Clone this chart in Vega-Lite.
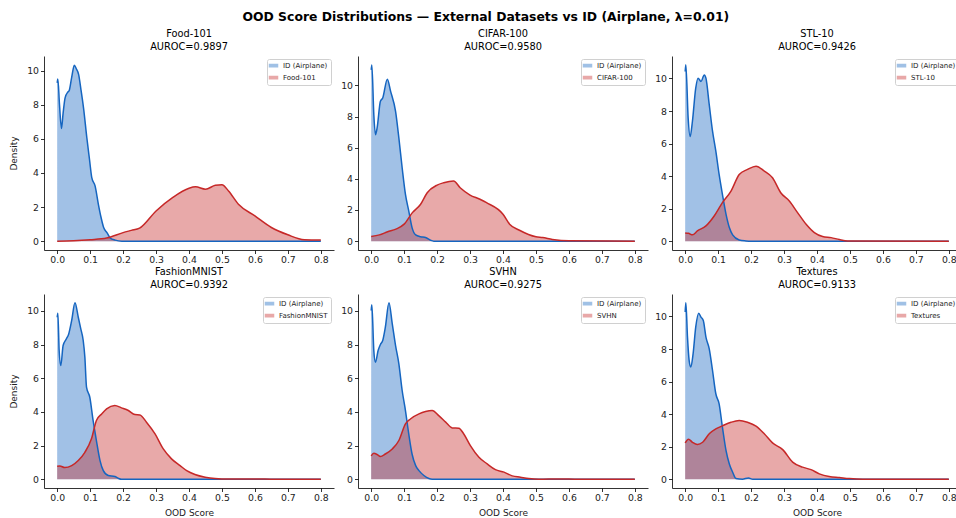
{
  "$schema": "https://vega.github.io/schema/vega-lite/v6.json",
  "background": "white",
  "autosize": {"type": "pad"},
  "padding": {"left": 9, "top": 11, "right": 0, "bottom": 0},
  "title": {"text": "OOD Score Distributions — External Datasets vs ID (Airplane, λ=0.01)", "fontSize": 12.4, "fontWeight": "bold", "anchor": "middle", "frame": "bounds", "offset": 6, "font": "DejaVu Sans", "color": "#000"},
  "config": {
    "font": "DejaVu Sans",
    "view": {"stroke": null},
    "title": {"fontSize": 9.8, "fontWeight": "normal", "font": "DejaVu Sans", "color": "#000", "offset": 4, "lineHeight": 12.8, "anchor": "middle"},
    "axis": {"grid": false, "domainColor": "#000", "tickColor": "#000", "domainWidth": 0.8, "tickWidth": 0.8, "tickSize": 3.5, "labelFontSize": 9.3, "labelColor": "#222", "labelPadding": 2, "titleFontSize": 9, "titleFontWeight": "normal", "titleColor": "#222", "labelFont": "DejaVu Sans", "titleFont": "DejaVu Sans"},
    "axisY": {"titlePadding": 8},
    "axisX": {"titlePadding": 6, "labelFlush": false},
    "legend": {"orient": "top-right", "offset": 3, "labelFontSize": 7, "labelFont": "DejaVu Sans", "labelColor": "#222", "symbolType": "M-1.6,-0.45H1.6V0.45H-1.6Z", "symbolSize": 25, "padding": 3, "rowPadding": 3, "strokeColor": "#d0d0d0", "fillColor": "white", "cornerRadius": 2, "labelOffset": 6}
  },
  "data": {"values": [
    {"panel":"Food-101","series":"ID (Airplane)","score":0,"density":9.28},
    {"panel":"Food-101","series":"ID (Airplane)","score":0.002,"density":9.5},
    {"panel":"Food-101","series":"ID (Airplane)","score":0.007,"density":8.0},
    {"panel":"Food-101","series":"ID (Airplane)","score":0.013,"density":6.6},
    {"panel":"Food-101","series":"ID (Airplane)","score":0.018,"density":7.5},
    {"panel":"Food-101","series":"ID (Airplane)","score":0.024,"density":8.4},
    {"panel":"Food-101","series":"ID (Airplane)","score":0.032,"density":8.73},
    {"panel":"Food-101","series":"ID (Airplane)","score":0.036,"density":8.8},
    {"panel":"Food-101","series":"ID (Airplane)","score":0.044,"density":9.6},
    {"panel":"Food-101","series":"ID (Airplane)","score":0.052,"density":10.31},
    {"panel":"Food-101","series":"ID (Airplane)","score":0.058,"density":10.1},
    {"panel":"Food-101","series":"ID (Airplane)","score":0.065,"density":9.77},
    {"panel":"Food-101","series":"ID (Airplane)","score":0.072,"density":8.9},
    {"panel":"Food-101","series":"ID (Airplane)","score":0.08,"density":7.8},
    {"panel":"Food-101","series":"ID (Airplane)","score":0.09,"density":6.06},
    {"panel":"Food-101","series":"ID (Airplane)","score":0.098,"density":4.8},
    {"panel":"Food-101","series":"ID (Airplane)","score":0.105,"density":3.72},
    {"panel":"Food-101","series":"ID (Airplane)","score":0.115,"density":3.24},
    {"panel":"Food-101","series":"ID (Airplane)","score":0.125,"density":2.16},
    {"panel":"Food-101","series":"ID (Airplane)","score":0.133,"density":1.4},
    {"panel":"Food-101","series":"ID (Airplane)","score":0.141,"density":0.8},
    {"panel":"Food-101","series":"ID (Airplane)","score":0.151,"density":0.5},
    {"panel":"Food-101","series":"ID (Airplane)","score":0.161,"density":0.18},
    {"panel":"Food-101","series":"ID (Airplane)","score":0.176,"density":0.06},
    {"panel":"Food-101","series":"ID (Airplane)","score":0.196,"density":0},
    {"panel":"Food-101","series":"ID (Airplane)","score":0.8,"density":0},
    {"panel":"Food-101","series":"Food-101","score":0,"density":0},
    {"panel":"Food-101","series":"Food-101","score":0.05,"density":0.02},
    {"panel":"Food-101","series":"Food-101","score":0.1,"density":0.08},
    {"panel":"Food-101","series":"Food-101","score":0.15,"density":0.18},
    {"panel":"Food-101","series":"Food-101","score":0.2,"density":0.5},
    {"panel":"Food-101","series":"Food-101","score":0.225,"density":0.63},
    {"panel":"Food-101","series":"Food-101","score":0.25,"density":0.76},
    {"panel":"Food-101","series":"Food-101","score":0.3,"density":1.77},
    {"panel":"Food-101","series":"Food-101","score":0.35,"density":2.55},
    {"panel":"Food-101","series":"Food-101","score":0.4,"density":3.1},
    {"panel":"Food-101","series":"Food-101","score":0.42,"density":3.18},
    {"panel":"Food-101","series":"Food-101","score":0.45,"density":3.04},
    {"panel":"Food-101","series":"Food-101","score":0.48,"density":3.27},
    {"panel":"Food-101","series":"Food-101","score":0.5,"density":3.3},
    {"panel":"Food-101","series":"Food-101","score":0.52,"density":2.94},
    {"panel":"Food-101","series":"Food-101","score":0.55,"density":2.16},
    {"panel":"Food-101","series":"Food-101","score":0.6,"density":1.48},
    {"panel":"Food-101","series":"Food-101","score":0.65,"density":0.8},
    {"panel":"Food-101","series":"Food-101","score":0.7,"density":0.37},
    {"panel":"Food-101","series":"Food-101","score":0.75,"density":0.08},
    {"panel":"Food-101","series":"Food-101","score":0.8,"density":0.06},

    {"panel":"CIFAR-100","series":"ID (Airplane)","score":0,"density":11.0},
    {"panel":"CIFAR-100","series":"ID (Airplane)","score":0.002,"density":11.32},
    {"panel":"CIFAR-100","series":"ID (Airplane)","score":0.008,"density":8.12},
    {"panel":"CIFAR-100","series":"ID (Airplane)","score":0.013,"density":6.84},
    {"panel":"CIFAR-100","series":"ID (Airplane)","score":0.018,"density":7.27},
    {"panel":"CIFAR-100","series":"ID (Airplane)","score":0.028,"density":8.98},
    {"panel":"CIFAR-100","series":"ID (Airplane)","score":0.035,"density":9.19},
    {"panel":"CIFAR-100","series":"ID (Airplane)","score":0.049,"density":10.4},
    {"panel":"CIFAR-100","series":"ID (Airplane)","score":0.059,"density":9.62},
    {"panel":"CIFAR-100","series":"ID (Airplane)","score":0.074,"density":8.34},
    {"panel":"CIFAR-100","series":"ID (Airplane)","score":0.084,"density":6.63},
    {"panel":"CIFAR-100","series":"ID (Airplane)","score":0.094,"density":4.71},
    {"panel":"CIFAR-100","series":"ID (Airplane)","score":0.104,"density":3.0},
    {"panel":"CIFAR-100","series":"ID (Airplane)","score":0.114,"density":1.94},
    {"panel":"CIFAR-100","series":"ID (Airplane)","score":0.124,"density":0.87},
    {"panel":"CIFAR-100","series":"ID (Airplane)","score":0.135,"density":0.4},
    {"panel":"CIFAR-100","series":"ID (Airplane)","score":0.15,"density":0.28},
    {"panel":"CIFAR-100","series":"ID (Airplane)","score":0.165,"density":0.23},
    {"panel":"CIFAR-100","series":"ID (Airplane)","score":0.18,"density":0.06},
    {"panel":"CIFAR-100","series":"ID (Airplane)","score":0.19,"density":0},
    {"panel":"CIFAR-100","series":"ID (Airplane)","score":0.8,"density":0},
    {"panel":"CIFAR-100","series":"CIFAR-100","score":0,"density":0.3},
    {"panel":"CIFAR-100","series":"CIFAR-100","score":0.025,"density":0.4},
    {"panel":"CIFAR-100","series":"CIFAR-100","score":0.05,"density":0.6},
    {"panel":"CIFAR-100","series":"CIFAR-100","score":0.075,"density":0.77},
    {"panel":"CIFAR-100","series":"CIFAR-100","score":0.1,"density":1.09},
    {"panel":"CIFAR-100","series":"CIFAR-100","score":0.125,"density":1.83},
    {"panel":"CIFAR-100","series":"CIFAR-100","score":0.15,"density":2.37},
    {"panel":"CIFAR-100","series":"CIFAR-100","score":0.17,"density":3.11},
    {"panel":"CIFAR-100","series":"CIFAR-100","score":0.2,"density":3.6},
    {"panel":"CIFAR-100","series":"CIFAR-100","score":0.22,"density":3.75},
    {"panel":"CIFAR-100","series":"CIFAR-100","score":0.25,"density":3.86},
    {"panel":"CIFAR-100","series":"CIFAR-100","score":0.27,"density":3.43},
    {"panel":"CIFAR-100","series":"CIFAR-100","score":0.3,"density":2.96},
    {"panel":"CIFAR-100","series":"CIFAR-100","score":0.33,"density":2.69},
    {"panel":"CIFAR-100","series":"CIFAR-100","score":0.35,"density":2.47},
    {"panel":"CIFAR-100","series":"CIFAR-100","score":0.4,"density":1.73},
    {"panel":"CIFAR-100","series":"CIFAR-100","score":0.42,"density":1.09},
    {"panel":"CIFAR-100","series":"CIFAR-100","score":0.45,"density":0.7},
    {"panel":"CIFAR-100","series":"CIFAR-100","score":0.5,"density":0.28},
    {"panel":"CIFAR-100","series":"CIFAR-100","score":0.52,"density":0.23},
    {"panel":"CIFAR-100","series":"CIFAR-100","score":0.55,"density":0.11},
    {"panel":"CIFAR-100","series":"CIFAR-100","score":0.6,"density":0.02},
    {"panel":"CIFAR-100","series":"CIFAR-100","score":0.8,"density":0},

    {"panel":"STL-10","series":"ID (Airplane)","score":0,"density":10.43},
    {"panel":"STL-10","series":"ID (Airplane)","score":0.002,"density":10.84},
    {"panel":"STL-10","series":"ID (Airplane)","score":0.009,"density":7.57},
    {"panel":"STL-10","series":"ID (Airplane)","score":0.015,"density":6.43},
    {"panel":"STL-10","series":"ID (Airplane)","score":0.022,"density":7.37},
    {"panel":"STL-10","series":"ID (Airplane)","score":0.032,"density":9.41},
    {"panel":"STL-10","series":"ID (Airplane)","score":0.039,"density":10.02},
    {"panel":"STL-10","series":"ID (Airplane)","score":0.048,"density":9.82},
    {"panel":"STL-10","series":"ID (Airplane)","score":0.058,"density":10.22},
    {"panel":"STL-10","series":"ID (Airplane)","score":0.063,"density":10.02},
    {"panel":"STL-10","series":"ID (Airplane)","score":0.073,"density":8.39},
    {"panel":"STL-10","series":"ID (Airplane)","score":0.083,"density":6.76},
    {"panel":"STL-10","series":"ID (Airplane)","score":0.093,"density":5.53},
    {"panel":"STL-10","series":"ID (Airplane)","score":0.103,"density":4.1},
    {"panel":"STL-10","series":"ID (Airplane)","score":0.113,"density":2.88},
    {"panel":"STL-10","series":"ID (Airplane)","score":0.124,"density":1.65},
    {"panel":"STL-10","series":"ID (Airplane)","score":0.134,"density":0.84},
    {"panel":"STL-10","series":"ID (Airplane)","score":0.144,"density":0.39},
    {"panel":"STL-10","series":"ID (Airplane)","score":0.164,"density":0.08},
    {"panel":"STL-10","series":"ID (Airplane)","score":0.184,"density":0.02},
    {"panel":"STL-10","series":"ID (Airplane)","score":0.2,"density":0},
    {"panel":"STL-10","series":"ID (Airplane)","score":0.8,"density":0},
    {"panel":"STL-10","series":"STL-10","score":0,"density":0.51},
    {"panel":"STL-10","series":"STL-10","score":0.01,"density":0.49},
    {"panel":"STL-10","series":"STL-10","score":0.022,"density":0.39},
    {"panel":"STL-10","series":"STL-10","score":0.037,"density":0.63},
    {"panel":"STL-10","series":"STL-10","score":0.063,"density":0.94},
    {"panel":"STL-10","series":"STL-10","score":0.088,"density":1.55},
    {"panel":"STL-10","series":"STL-10","score":0.113,"density":2.37},
    {"panel":"STL-10","series":"STL-10","score":0.139,"density":3.08},
    {"panel":"STL-10","series":"STL-10","score":0.164,"density":4.1},
    {"panel":"STL-10","series":"STL-10","score":0.189,"density":4.41},
    {"panel":"STL-10","series":"STL-10","score":0.215,"density":4.61},
    {"panel":"STL-10","series":"STL-10","score":0.24,"density":4.31},
    {"panel":"STL-10","series":"STL-10","score":0.265,"density":3.9},
    {"panel":"STL-10","series":"STL-10","score":0.29,"density":2.98},
    {"panel":"STL-10","series":"STL-10","score":0.316,"density":2.47},
    {"panel":"STL-10","series":"STL-10","score":0.341,"density":1.76},
    {"panel":"STL-10","series":"STL-10","score":0.367,"density":1.04},
    {"panel":"STL-10","series":"STL-10","score":0.392,"density":0.53},
    {"panel":"STL-10","series":"STL-10","score":0.417,"density":0.29},
    {"panel":"STL-10","series":"STL-10","score":0.443,"density":0.22},
    {"panel":"STL-10","series":"STL-10","score":0.468,"density":0.1},
    {"panel":"STL-10","series":"STL-10","score":0.493,"density":0.02},
    {"panel":"STL-10","series":"STL-10","score":0.8,"density":0},

    {"panel":"FashionMNIST","series":"ID (Airplane)","score":0,"density":9.62},
    {"panel":"FashionMNIST","series":"ID (Airplane)","score":0.002,"density":9.86},
    {"panel":"FashionMNIST","series":"ID (Airplane)","score":0.006,"density":7.64},
    {"panel":"FashionMNIST","series":"ID (Airplane)","score":0.011,"density":6.75},
    {"panel":"FashionMNIST","series":"ID (Airplane)","score":0.018,"density":7.94},
    {"panel":"FashionMNIST","series":"ID (Airplane)","score":0.028,"density":8.34},
    {"panel":"FashionMNIST","series":"ID (Airplane)","score":0.035,"density":8.63},
    {"panel":"FashionMNIST","series":"ID (Airplane)","score":0.044,"density":9.43},
    {"panel":"FashionMNIST","series":"ID (Airplane)","score":0.054,"density":10.48},
    {"panel":"FashionMNIST","series":"ID (Airplane)","score":0.064,"density":9.62},
    {"panel":"FashionMNIST","series":"ID (Airplane)","score":0.072,"density":8.9},
    {"panel":"FashionMNIST","series":"ID (Airplane)","score":0.079,"density":8.24},
    {"panel":"FashionMNIST","series":"ID (Airplane)","score":0.084,"density":7.25},
    {"panel":"FashionMNIST","series":"ID (Airplane)","score":0.089,"density":5.47},
    {"panel":"FashionMNIST","series":"ID (Airplane)","score":0.099,"density":4.87},
    {"panel":"FashionMNIST","series":"ID (Airplane)","score":0.109,"density":3.49},
    {"panel":"FashionMNIST","series":"ID (Airplane)","score":0.119,"density":2.3},
    {"panel":"FashionMNIST","series":"ID (Airplane)","score":0.13,"density":1.11},
    {"panel":"FashionMNIST","series":"ID (Airplane)","score":0.14,"density":0.51},
    {"panel":"FashionMNIST","series":"ID (Airplane)","score":0.155,"density":0.22},
    {"panel":"FashionMNIST","series":"ID (Airplane)","score":0.175,"density":0.16},
    {"panel":"FashionMNIST","series":"ID (Airplane)","score":0.185,"density":0.06},
    {"panel":"FashionMNIST","series":"ID (Airplane)","score":0.195,"density":0},
    {"panel":"FashionMNIST","series":"ID (Airplane)","score":0.8,"density":0},
    {"panel":"FashionMNIST","series":"FashionMNIST","score":0,"density":0.77},
    {"panel":"FashionMNIST","series":"FashionMNIST","score":0.008,"density":0.79},
    {"panel":"FashionMNIST","series":"FashionMNIST","score":0.023,"density":0.69},
    {"panel":"FashionMNIST","series":"FashionMNIST","score":0.044,"density":0.81},
    {"panel":"FashionMNIST","series":"FashionMNIST","score":0.064,"density":1.11},
    {"panel":"FashionMNIST","series":"FashionMNIST","score":0.084,"density":1.6},
    {"panel":"FashionMNIST","series":"FashionMNIST","score":0.104,"density":2.4},
    {"panel":"FashionMNIST","series":"FashionMNIST","score":0.119,"density":3.49},
    {"panel":"FashionMNIST","series":"FashionMNIST","score":0.135,"density":3.88},
    {"panel":"FashionMNIST","series":"FashionMNIST","score":0.15,"density":4.18},
    {"panel":"FashionMNIST","series":"FashionMNIST","score":0.175,"density":4.38},
    {"panel":"FashionMNIST","series":"FashionMNIST","score":0.195,"density":4.24},
    {"panel":"FashionMNIST","series":"FashionMNIST","score":0.216,"density":4.08},
    {"panel":"FashionMNIST","series":"FashionMNIST","score":0.236,"density":3.84},
    {"panel":"FashionMNIST","series":"FashionMNIST","score":0.251,"density":3.82},
    {"panel":"FashionMNIST","series":"FashionMNIST","score":0.271,"density":3.39},
    {"panel":"FashionMNIST","series":"FashionMNIST","score":0.297,"density":2.69},
    {"panel":"FashionMNIST","series":"FashionMNIST","score":0.322,"density":1.8},
    {"panel":"FashionMNIST","series":"FashionMNIST","score":0.347,"density":1.21},
    {"panel":"FashionMNIST","series":"FashionMNIST","score":0.373,"density":0.81},
    {"panel":"FashionMNIST","series":"FashionMNIST","score":0.393,"density":0.51},
    {"panel":"FashionMNIST","series":"FashionMNIST","score":0.418,"density":0.28},
    {"panel":"FashionMNIST","series":"FashionMNIST","score":0.449,"density":0.12},
    {"panel":"FashionMNIST","series":"FashionMNIST","score":0.479,"density":0.04},
    {"panel":"FashionMNIST","series":"FashionMNIST","score":0.52,"density":0.01},
    {"panel":"FashionMNIST","series":"FashionMNIST","score":0.6,"density":0.02},
    {"panel":"FashionMNIST","series":"FashionMNIST","score":0.66,"density":0},
    {"panel":"FashionMNIST","series":"FashionMNIST","score":0.8,"density":0},

    {"panel":"SVHN","series":"ID (Airplane)","score":0,"density":10.02},
    {"panel":"SVHN","series":"ID (Airplane)","score":0.002,"density":10.36},
    {"panel":"SVHN","series":"ID (Airplane)","score":0.008,"density":7.64},
    {"panel":"SVHN","series":"ID (Airplane)","score":0.013,"density":6.95},
    {"panel":"SVHN","series":"ID (Airplane)","score":0.021,"density":7.64},
    {"panel":"SVHN","series":"ID (Airplane)","score":0.028,"density":8.0},
    {"panel":"SVHN","series":"ID (Airplane)","score":0.035,"density":8.24},
    {"panel":"SVHN","series":"ID (Airplane)","score":0.043,"density":9.03},
    {"panel":"SVHN","series":"ID (Airplane)","score":0.054,"density":10.48},
    {"panel":"SVHN","series":"ID (Airplane)","score":0.064,"density":9.23},
    {"panel":"SVHN","series":"ID (Airplane)","score":0.074,"density":7.94},
    {"panel":"SVHN","series":"ID (Airplane)","score":0.084,"density":6.85},
    {"panel":"SVHN","series":"ID (Airplane)","score":0.094,"density":5.27},
    {"panel":"SVHN","series":"ID (Airplane)","score":0.104,"density":4.08},
    {"panel":"SVHN","series":"ID (Airplane)","score":0.114,"density":2.69},
    {"panel":"SVHN","series":"ID (Airplane)","score":0.124,"density":1.5},
    {"panel":"SVHN","series":"ID (Airplane)","score":0.135,"density":0.81},
    {"panel":"SVHN","series":"ID (Airplane)","score":0.145,"density":0.51},
    {"panel":"SVHN","series":"ID (Airplane)","score":0.16,"density":0.22},
    {"panel":"SVHN","series":"ID (Airplane)","score":0.175,"density":0.04},
    {"panel":"SVHN","series":"ID (Airplane)","score":0.185,"density":0},
    {"panel":"SVHN","series":"ID (Airplane)","score":0.8,"density":0},
    {"panel":"SVHN","series":"SVHN","score":0,"density":1.39},
    {"panel":"SVHN","series":"SVHN","score":0.008,"density":1.54},
    {"panel":"SVHN","series":"SVHN","score":0.018,"density":1.47},
    {"panel":"SVHN","series":"SVHN","score":0.028,"density":1.35},
    {"panel":"SVHN","series":"SVHN","score":0.043,"density":1.5},
    {"panel":"SVHN","series":"SVHN","score":0.064,"density":1.8},
    {"panel":"SVHN","series":"SVHN","score":0.084,"density":2.3},
    {"panel":"SVHN","series":"SVHN","score":0.104,"density":3.29},
    {"panel":"SVHN","series":"SVHN","score":0.119,"density":3.58},
    {"panel":"SVHN","series":"SVHN","score":0.145,"density":3.88},
    {"panel":"SVHN","series":"SVHN","score":0.165,"density":4.02},
    {"panel":"SVHN","series":"SVHN","score":0.185,"density":4.08},
    {"panel":"SVHN","series":"SVHN","score":0.205,"density":3.78},
    {"panel":"SVHN","series":"SVHN","score":0.226,"density":3.39},
    {"panel":"SVHN","series":"SVHN","score":0.246,"density":3.05},
    {"panel":"SVHN","series":"SVHN","score":0.266,"density":3.03},
    {"panel":"SVHN","series":"SVHN","score":0.281,"density":2.69},
    {"panel":"SVHN","series":"SVHN","score":0.301,"density":2.0},
    {"panel":"SVHN","series":"SVHN","score":0.327,"density":1.31},
    {"panel":"SVHN","series":"SVHN","score":0.352,"density":0.91},
    {"panel":"SVHN","series":"SVHN","score":0.377,"density":0.57},
    {"panel":"SVHN","series":"SVHN","score":0.403,"density":0.42},
    {"panel":"SVHN","series":"SVHN","score":0.428,"density":0.2},
    {"panel":"SVHN","series":"SVHN","score":0.453,"density":0.12},
    {"panel":"SVHN","series":"SVHN","score":0.478,"density":0.04},
    {"panel":"SVHN","series":"SVHN","score":0.509,"density":0},
    {"panel":"SVHN","series":"SVHN","score":0.57,"density":0.02},
    {"panel":"SVHN","series":"SVHN","score":0.63,"density":0},
    {"panel":"SVHN","series":"SVHN","score":0.8,"density":0},

    {"panel":"Textures","series":"ID (Airplane)","score":0,"density":10.27},
    {"panel":"Textures","series":"ID (Airplane)","score":0.002,"density":10.84},
    {"panel":"Textures","series":"ID (Airplane)","score":0.007,"density":8.73},
    {"panel":"Textures","series":"ID (Airplane)","score":0.012,"density":7.3},
    {"panel":"Textures","series":"ID (Airplane)","score":0.017,"density":6.89},
    {"panel":"Textures","series":"ID (Airplane)","score":0.024,"density":7.7},
    {"panel":"Textures","series":"ID (Airplane)","score":0.032,"density":9.34},
    {"panel":"Textures","series":"ID (Airplane)","score":0.041,"density":10.2},
    {"panel":"Textures","series":"ID (Airplane)","score":0.048,"density":9.96},
    {"panel":"Textures","series":"ID (Airplane)","score":0.055,"density":9.75},
    {"panel":"Textures","series":"ID (Airplane)","score":0.063,"density":8.73},
    {"panel":"Textures","series":"ID (Airplane)","score":0.073,"density":8.01},
    {"panel":"Textures","series":"ID (Airplane)","score":0.083,"density":6.68},
    {"panel":"Textures","series":"ID (Airplane)","score":0.093,"density":5.25},
    {"panel":"Textures","series":"ID (Airplane)","score":0.103,"density":4.63},
    {"panel":"Textures","series":"ID (Airplane)","score":0.113,"density":3.2},
    {"panel":"Textures","series":"ID (Airplane)","score":0.124,"density":1.76},
    {"panel":"Textures","series":"ID (Airplane)","score":0.134,"density":0.94},
    {"panel":"Textures","series":"ID (Airplane)","score":0.144,"density":0.43},
    {"panel":"Textures","series":"ID (Airplane)","score":0.154,"density":0.04},
    {"panel":"Textures","series":"ID (Airplane)","score":0.174,"density":0},
    {"panel":"Textures","series":"ID (Airplane)","score":0.192,"density":0.08},
    {"panel":"Textures","series":"ID (Airplane)","score":0.205,"density":0},
    {"panel":"Textures","series":"ID (Airplane)","score":0.8,"density":0},
    {"panel":"Textures","series":"Textures","score":0,"density":2.23},
    {"panel":"Textures","series":"Textures","score":0.01,"density":2.46},
    {"panel":"Textures","series":"Textures","score":0.022,"density":2.27},
    {"panel":"Textures","series":"Textures","score":0.037,"density":2.13},
    {"panel":"Textures","series":"Textures","score":0.053,"density":2.27},
    {"panel":"Textures","series":"Textures","score":0.073,"density":2.79},
    {"panel":"Textures","series":"Textures","score":0.093,"density":3.09},
    {"panel":"Textures","series":"Textures","score":0.113,"density":3.28},
    {"panel":"Textures","series":"Textures","score":0.139,"density":3.5},
    {"panel":"Textures","series":"Textures","score":0.164,"density":3.61},
    {"panel":"Textures","series":"Textures","score":0.189,"density":3.5},
    {"panel":"Textures","series":"Textures","score":0.215,"density":3.26},
    {"panel":"Textures","series":"Textures","score":0.24,"density":2.79},
    {"panel":"Textures","series":"Textures","score":0.265,"density":2.23},
    {"panel":"Textures","series":"Textures","score":0.296,"density":1.82},
    {"panel":"Textures","series":"Textures","score":0.326,"density":1.05},
    {"panel":"Textures","series":"Textures","score":0.356,"density":0.74},
    {"panel":"Textures","series":"Textures","score":0.382,"density":0.59},
    {"panel":"Textures","series":"Textures","score":0.407,"density":0.33},
    {"panel":"Textures","series":"Textures","score":0.437,"density":0.16},
    {"panel":"Textures","series":"Textures","score":0.468,"density":0.1},
    {"panel":"Textures","series":"Textures","score":0.498,"density":0.04},
    {"panel":"Textures","series":"Textures","score":0.539,"density":0},
    {"panel":"Textures","series":"Textures","score":0.8,"density":0}
  ]},
  "columns": 3,
  "spacing": {"row": 44, "column": 24},
  "bounds": "flush",
  "resolve": {"scale": {"x": "independent", "y": "independent", "color": "independent"}, "legend": {"color": "independent"}},
  "concat": [
    {
      "title": {"text": ["Food-101", "AUROC=0.9897"], "frame": "group"},
      "width": 290, "height": 194,
      "transform": [{"filter": "datum.panel == 'Food-101'"}],
      "encoding": {
        "x": {"field": "score", "type": "quantitative", "scale": {"domain": [-0.04, 0.84], "nice": false, "zero": false}, "axis": {"values": [0, 0.1, 0.2, 0.3, 0.4, 0.5, 0.6, 0.7, 0.8], "format": ".1f", "title": null}},
        "y": {"field": "density", "type": "quantitative", "stack": null, "scale": {"domain": [-0.52, 10.85], "nice": false, "zero": false}, "axis": {"values": [0, 2, 4, 6, 8, 10], "title": "Density"}}
      },
      "layer": [
        {"mark": {"type": "area", "opacity": 0.4, "interpolate": "monotone"}, "encoding": {"y2": {"datum": 0}, "color": {"field": "series", "type": "nominal", "scale": {"domain": ["ID (Airplane)", "Food-101"], "range": ["#1565c0", "#c62828"]}, "legend": {"title": null}}}},
        {"mark": {"type": "line", "strokeWidth": 1.5, "interpolate": "monotone"}, "encoding": {"color": {"field": "series", "type": "nominal", "legend": null}}}
      ]
    },
    {
      "title": {"text": ["CIFAR-100", "AUROC=0.9580"], "frame": "group"},
      "width": 290, "height": 194,
      "transform": [{"filter": "datum.panel == 'CIFAR-100'"}],
      "encoding": {
        "x": {"field": "score", "type": "quantitative", "scale": {"domain": [-0.04, 0.84], "nice": false, "zero": false}, "axis": {"values": [0, 0.1, 0.2, 0.3, 0.4, 0.5, 0.6, 0.7, 0.8], "format": ".1f", "title": null}},
        "y": {"field": "density", "type": "quantitative", "stack": null, "scale": {"domain": [-0.57, 11.89], "nice": false, "zero": false}, "axis": {"values": [0, 2, 4, 6, 8, 10], "title": null}}
      },
      "layer": [
        {"mark": {"type": "area", "opacity": 0.4, "interpolate": "monotone"}, "encoding": {"y2": {"datum": 0}, "color": {"field": "series", "type": "nominal", "scale": {"domain": ["ID (Airplane)", "CIFAR-100"], "range": ["#1565c0", "#c62828"]}, "legend": {"title": null}}}},
        {"mark": {"type": "line", "strokeWidth": 1.5, "interpolate": "monotone"}, "encoding": {"color": {"field": "series", "type": "nominal", "legend": null}}}
      ]
    },
    {
      "title": {"text": ["STL-10", "AUROC=0.9426"], "frame": "group"},
      "width": 290, "height": 194,
      "transform": [{"filter": "datum.panel == 'STL-10'"}],
      "encoding": {
        "x": {"field": "score", "type": "quantitative", "scale": {"domain": [-0.04, 0.84], "nice": false, "zero": false}, "axis": {"values": [0, 0.1, 0.2, 0.3, 0.4, 0.5, 0.6, 0.7, 0.8], "format": ".1f", "title": null}},
        "y": {"field": "density", "type": "quantitative", "stack": null, "scale": {"domain": [-0.54, 11.38], "nice": false, "zero": false}, "axis": {"values": [0, 2, 4, 6, 8, 10], "title": null}}
      },
      "layer": [
        {"mark": {"type": "area", "opacity": 0.4, "interpolate": "monotone"}, "encoding": {"y2": {"datum": 0}, "color": {"field": "series", "type": "nominal", "scale": {"domain": ["ID (Airplane)", "STL-10"], "range": ["#1565c0", "#c62828"]}, "legend": {"title": null}}}},
        {"mark": {"type": "line", "strokeWidth": 1.5, "interpolate": "monotone"}, "encoding": {"color": {"field": "series", "type": "nominal", "legend": null}}}
      ]
    },
    {
      "title": {"text": ["FashionMNIST", "AUROC=0.9392"], "frame": "group"},
      "width": 290, "height": 194,
      "transform": [{"filter": "datum.panel == 'FashionMNIST'"}],
      "encoding": {
        "x": {"field": "score", "type": "quantitative", "scale": {"domain": [-0.04, 0.84], "nice": false, "zero": false}, "axis": {"values": [0, 0.1, 0.2, 0.3, 0.4, 0.5, 0.6, 0.7, 0.8], "format": ".1f", "title": "OOD Score"}},
        "y": {"field": "density", "type": "quantitative", "stack": null, "scale": {"domain": [-0.52, 11.0], "nice": false, "zero": false}, "axis": {"values": [0, 2, 4, 6, 8, 10], "title": "Density"}}
      },
      "layer": [
        {"mark": {"type": "area", "opacity": 0.4, "interpolate": "monotone"}, "encoding": {"y2": {"datum": 0}, "color": {"field": "series", "type": "nominal", "scale": {"domain": ["ID (Airplane)", "FashionMNIST"], "range": ["#1565c0", "#c62828"]}, "legend": {"title": null}}}},
        {"mark": {"type": "line", "strokeWidth": 1.5, "interpolate": "monotone"}, "encoding": {"color": {"field": "series", "type": "nominal", "legend": null}}}
      ]
    },
    {
      "title": {"text": ["SVHN", "AUROC=0.9275"], "frame": "group"},
      "width": 290, "height": 194,
      "transform": [{"filter": "datum.panel == 'SVHN'"}],
      "encoding": {
        "x": {"field": "score", "type": "quantitative", "scale": {"domain": [-0.04, 0.84], "nice": false, "zero": false}, "axis": {"values": [0, 0.1, 0.2, 0.3, 0.4, 0.5, 0.6, 0.7, 0.8], "format": ".1f", "title": "OOD Score"}},
        "y": {"field": "density", "type": "quantitative", "stack": null, "scale": {"domain": [-0.52, 11.0], "nice": false, "zero": false}, "axis": {"values": [0, 2, 4, 6, 8, 10], "title": null}}
      },
      "layer": [
        {"mark": {"type": "area", "opacity": 0.4, "interpolate": "monotone"}, "encoding": {"y2": {"datum": 0}, "color": {"field": "series", "type": "nominal", "scale": {"domain": ["ID (Airplane)", "SVHN"], "range": ["#1565c0", "#c62828"]}, "legend": {"title": null}}}},
        {"mark": {"type": "line", "strokeWidth": 1.5, "interpolate": "monotone"}, "encoding": {"color": {"field": "series", "type": "nominal", "legend": null}}}
      ]
    },
    {
      "title": {"text": ["Textures", "AUROC=0.9133"], "frame": "group"},
      "width": 290, "height": 194,
      "transform": [{"filter": "datum.panel == 'Textures'"}],
      "encoding": {
        "x": {"field": "score", "type": "quantitative", "scale": {"domain": [-0.04, 0.84], "nice": false, "zero": false}, "axis": {"values": [0, 0.1, 0.2, 0.3, 0.4, 0.5, 0.6, 0.7, 0.8], "format": ".1f", "title": "OOD Score"}},
        "y": {"field": "density", "type": "quantitative", "stack": null, "scale": {"domain": [-0.54, 11.38], "nice": false, "zero": false}, "axis": {"values": [0, 2, 4, 6, 8, 10], "title": null}}
      },
      "layer": [
        {"mark": {"type": "area", "opacity": 0.4, "interpolate": "monotone"}, "encoding": {"y2": {"datum": 0}, "color": {"field": "series", "type": "nominal", "scale": {"domain": ["ID (Airplane)", "Textures"], "range": ["#1565c0", "#c62828"]}, "legend": {"title": null}}}},
        {"mark": {"type": "line", "strokeWidth": 1.5, "interpolate": "monotone"}, "encoding": {"color": {"field": "series", "type": "nominal", "legend": null}}}
      ]
    }
  ]
}
